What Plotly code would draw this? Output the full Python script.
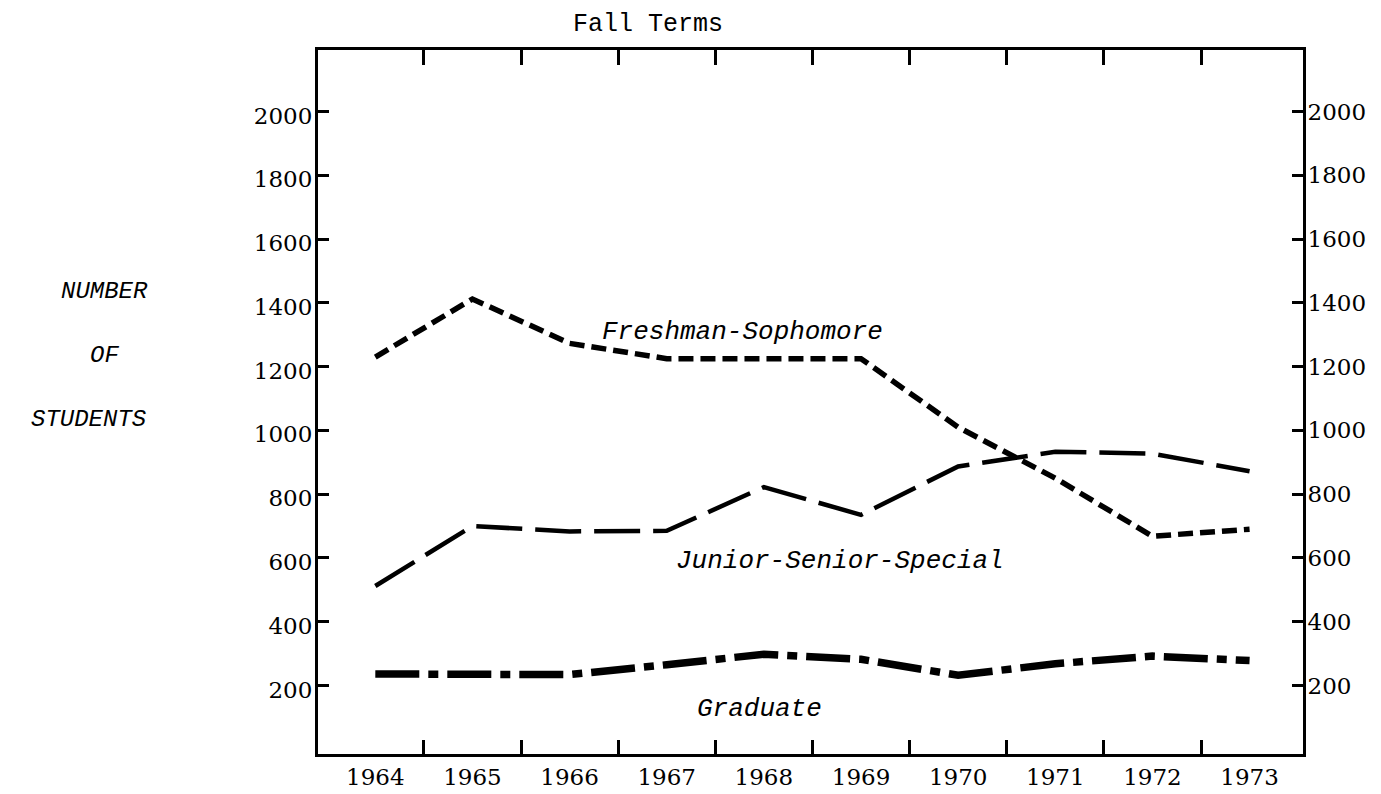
import plotly.graph_objects as go

years = [1964, 1965, 1966, 1967, 1968, 1969, 1970, 1971, 1972, 1973]
year_labels = [str(y) for y in years]
freshman_sophomore = [1230, 1412, 1273, 1225, 1225, 1225, 1010, 850, 668, 690]
junior_senior_special = [512, 700, 683, 685, 822, 735, 887, 933, 927, 872]
graduate = [236, 234, 234, 265, 298, 282, 232, 268, 292, 278]
y_ticks = [200, 400, 600, 800, 1000, 1200, 1400, 1600, 1800, 2000]
boundaries = [y + 0.5 for y in years[:-1]]

NUM_FONT = "DejaVu Serif"
TITLE_FONT = "Liberation Mono"
ITAL_FONT = "Liberation Mono"

fig = go.Figure()
fig.add_trace(go.Scatter(x=years, y=freshman_sophomore, mode="lines",
                         line=dict(color="black", width=5.5, dash="15px,7px"),
                         name="Freshman-Sophomore", hoverinfo="skip"))
fig.add_trace(go.Scatter(x=years, y=junior_senior_special, mode="lines",
                         line=dict(color="black", width=4.5, dash="46px,13px"),
                         name="Junior-Senior-Special", hoverinfo="skip"))
fig.add_trace(go.Scatter(x=years, y=graduate, mode="lines",
                         line=dict(color="black", width=7.5, dash="44px,9px,10px,9px"),
                         name="Graduate", hoverinfo="skip"))
# helper trace so the top/right axes are drawn
fig.add_trace(go.Scatter(x=[None], y=[None], xaxis="x2", yaxis="y2",
                         mode="lines", showlegend=False, hoverinfo="skip"))

xr = [1963.41, 1973.55]
yr = [-15, 2193]

tick_font = dict(family=NUM_FONT, size=23, color="black")

fig.update_layout(
    width=1381, height=794,
    margin=dict(l=310, r=86, t=42, b=32, pad=0),
    paper_bgcolor="white", plot_bgcolor="white",
    showlegend=False,
    xaxis=dict(range=xr, tickmode="array", tickvals=years, ticktext=year_labels,
               ticks="", showgrid=False, zeroline=False,
               showline=True, linecolor="black", linewidth=3,
               tickfont=tick_font, ticklabelstandoff=0,
               minor=dict(tickmode="array", tickvals=boundaries, ticks="inside",
                          ticklen=14, tickwidth=3, tickcolor="black", showgrid=False)),
    xaxis2=dict(range=xr, overlaying="x", side="top", anchor="y2",
                tickmode="array", tickvals=boundaries, ticks="inside",
                ticklen=15, tickwidth=3, tickcolor="black",
                showticklabels=False, showgrid=False, zeroline=False,
                showline=True, linecolor="black", linewidth=3),
    yaxis=dict(range=yr, tickmode="array", tickvals=y_ticks,
               ticks="inside", ticklen=11, tickwidth=3, tickcolor="black",
               showgrid=False, zeroline=False,
               showline=True, linecolor="black", linewidth=3,
               tickfont=tick_font, ticklabelstandoff=-2, ticklabelshift=4),
    yaxis2=dict(range=yr, overlaying="y", side="right", anchor="x2",
                tickmode="array", tickvals=y_ticks,
                ticks="inside", ticklen=11, tickwidth=3, tickcolor="black",
                showgrid=False, zeroline=False,
                showline=True, linecolor="black", linewidth=3,
                tickfont=tick_font, ticklabelstandoff=-3),
)

ann_font = dict(family=ITAL_FONT, size=26, color="black")
fig.add_annotation(text="Fall Terms", xref="paper", yref="paper",
                   x=(640 - 310) / 985, y=1, xanchor="center", yanchor="bottom", yshift=9,
                   showarrow=False, font=dict(family=TITLE_FONT, size=25, color="black"))
fig.add_annotation(text="<i>Freshman-Sophomore</i>", x=1967.78, y=1310,
                   showarrow=False, font=ann_font)
fig.add_annotation(text="<i>Junior-Senior-Special</i>", x=1968.78, y=590,
                   showarrow=False, font=ann_font)
fig.add_annotation(text="<i>Graduate</i>", x=1967.95, y=125,
                   showarrow=False, font=ann_font)

for txt, xp, yv in [("NUMBER", 96, 1435), ("OF", 96, 1235), ("STUDENTS", 80, 1035)]:
    fig.add_annotation(text="<i>" + txt + "</i>", xref="paper", x=(xp - 310) / 985,
                       xanchor="center", y=yv, showarrow=False,
                       font=dict(family=ITAL_FONT, size=24, color="black"))

fig.write_html("out.html")
